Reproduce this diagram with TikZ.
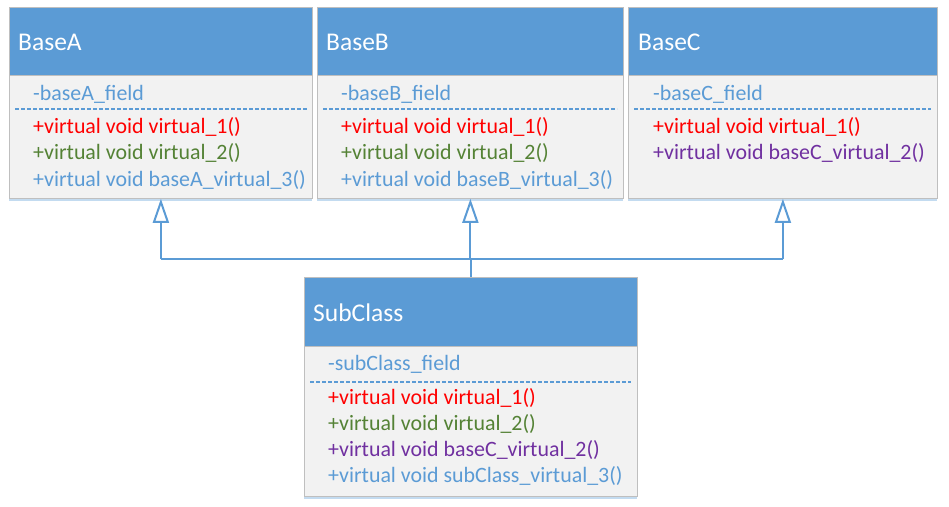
\documentclass[tikz,border=0pt]{standalone}
\usepackage{fontspec}
\setmainfont{Carlito}
\usetikzlibrary{arrows.meta,shadows}
\definecolor{hblue}{HTML}{5B9BD5}
\definecolor{bodygray}{HTML}{F2F2F2}
\definecolor{bordergray}{HTML}{BFBFBF}
\definecolor{mred}{HTML}{FF0000}
\definecolor{mgreen}{HTML}{548235}
\definecolor{mpurple}{HTML}{7030A0}
\definecolor{shadowblue}{HTML}{BDD7EE}
\tikzset{
  hdr/.style={rectangle, fill=hblue, draw=bordergray, line width=0.8pt, anchor=north west, inner sep=0pt},
  bodybox/.style={rectangle, fill=bodygray, draw=bordergray, line width=0.8pt, anchor=north west, inner sep=0pt,
    drop shadow={shadow xshift=0pt, shadow yshift=-3pt, fill=shadowblue, opacity=0.9}},
  title/.style={anchor=west, text=white, font=\fontsize{25.5}{30}\selectfont, inner sep=0pt},
  member/.style={anchor=west, font=\fontsize{21.9}{26}\selectfont, inner sep=0pt},
  fld/.style={member, text=hblue},
  sep/.style={draw=hblue, line width=1.6pt, dash pattern=on 4pt off 2pt},
  conn/.style={draw=hblue, line width=2pt},
  inh/.style={conn, -{Triangle[open, length=24pt, width=16pt, line width=2pt]}},
}
\begin{document}
\begin{tikzpicture}[x=1pt,y=-1pt]
\useasboundingbox (0,0) rectangle (949,506);
% BaseA
\node[bodybox, minimum width=303pt, minimum height=123pt] (Abody) at (9,75) {};
\node[hdr, minimum width=303pt, minimum height=68pt] (Ahead) at (9,7) {};
\node[title] (Atitle) at (18,42) {BaseA};
\node[fld] (Af) at (33,94) {-baseA\_field};
\draw[sep] (15,109) -- (307,109);
\node[member, text=mred] (Am1) at (33,127) {+virtual void virtual\_1()};
\node[member, text=mgreen] (Am2) at (33,153) {+virtual void virtual\_2()};
\node[member, text=hblue] (Am3) at (33,180) {+virtual void baseA\_virtual\_3()};
% BaseB
\node[bodybox, minimum width=306pt, minimum height=123pt] (Bbody) at (317,75) {};
\node[hdr, minimum width=306pt, minimum height=68pt] (Bhead) at (317,7) {};
\node[title] (Btitle) at (326,42) {BaseB};
\node[fld] (Bf) at (341,94) {-baseB\_field};
\draw[sep] (323,109) -- (617,109);
\node[member, text=mred] (Bm1) at (341,127) {+virtual void virtual\_1()};
\node[member, text=mgreen] (Bm2) at (341,153) {+virtual void virtual\_2()};
\node[member, text=hblue] (Bm3) at (341,180) {+virtual void baseB\_virtual\_3()};
% BaseC
\node[bodybox, minimum width=309pt, minimum height=123pt] (Cbody) at (628,75) {};
\node[hdr, minimum width=309pt, minimum height=68pt] (Chead) at (628,7) {};
\node[title] (Ctitle) at (638,42) {BaseC};
\node[fld] (Cf) at (653,94) {-baseC\_field};
\draw[sep] (634,109) -- (931,109);
\node[member, text=mred] (Cm1) at (653,127) {+virtual void virtual\_1()};
\node[member, text=mpurple] (Cm2) at (653,153) {+virtual void baseC\_virtual\_2()};
% SubClass
\node[bodybox, minimum width=333pt, minimum height=150pt] (Sbody) at (304,346) {};
\node[hdr, minimum width=333pt, minimum height=69pt] (Shead) at (304,277) {};
\node[title] (Stitle) at (313,313) {SubClass};
\node[fld] (Sf) at (328,364) {-subClass\_field};
\draw[sep] (310,382) -- (631,382);
\node[member, text=mred] (Sm1) at (328,398) {+virtual void virtual\_1()};
\node[member, text=mgreen] (Sm2) at (328,424) {+virtual void virtual\_2()};
\node[member, text=mpurple] (Sm3) at (328,450) {+virtual void baseC\_virtual\_2()};
\node[member, text=hblue] (Sm4) at (328,476) {+virtual void subClass\_virtual\_3()};
% connectors
\coordinate (J) at (470,259);
\coordinate (JA) at (Abody.south |- J);
\coordinate (JB) at (Bbody.south |- J);
\coordinate (JC) at (Cbody.south |- J);
\draw[conn] (Shead.north |- J) -- (Shead.north);
\draw[conn] (JA) -- (JC);
\draw[inh] (JA) -- (Abody.south);
\draw[inh] (JB) -- (Bbody.south);
\draw[inh] (JC) -- (Cbody.south);
\end{tikzpicture}
\end{document}
